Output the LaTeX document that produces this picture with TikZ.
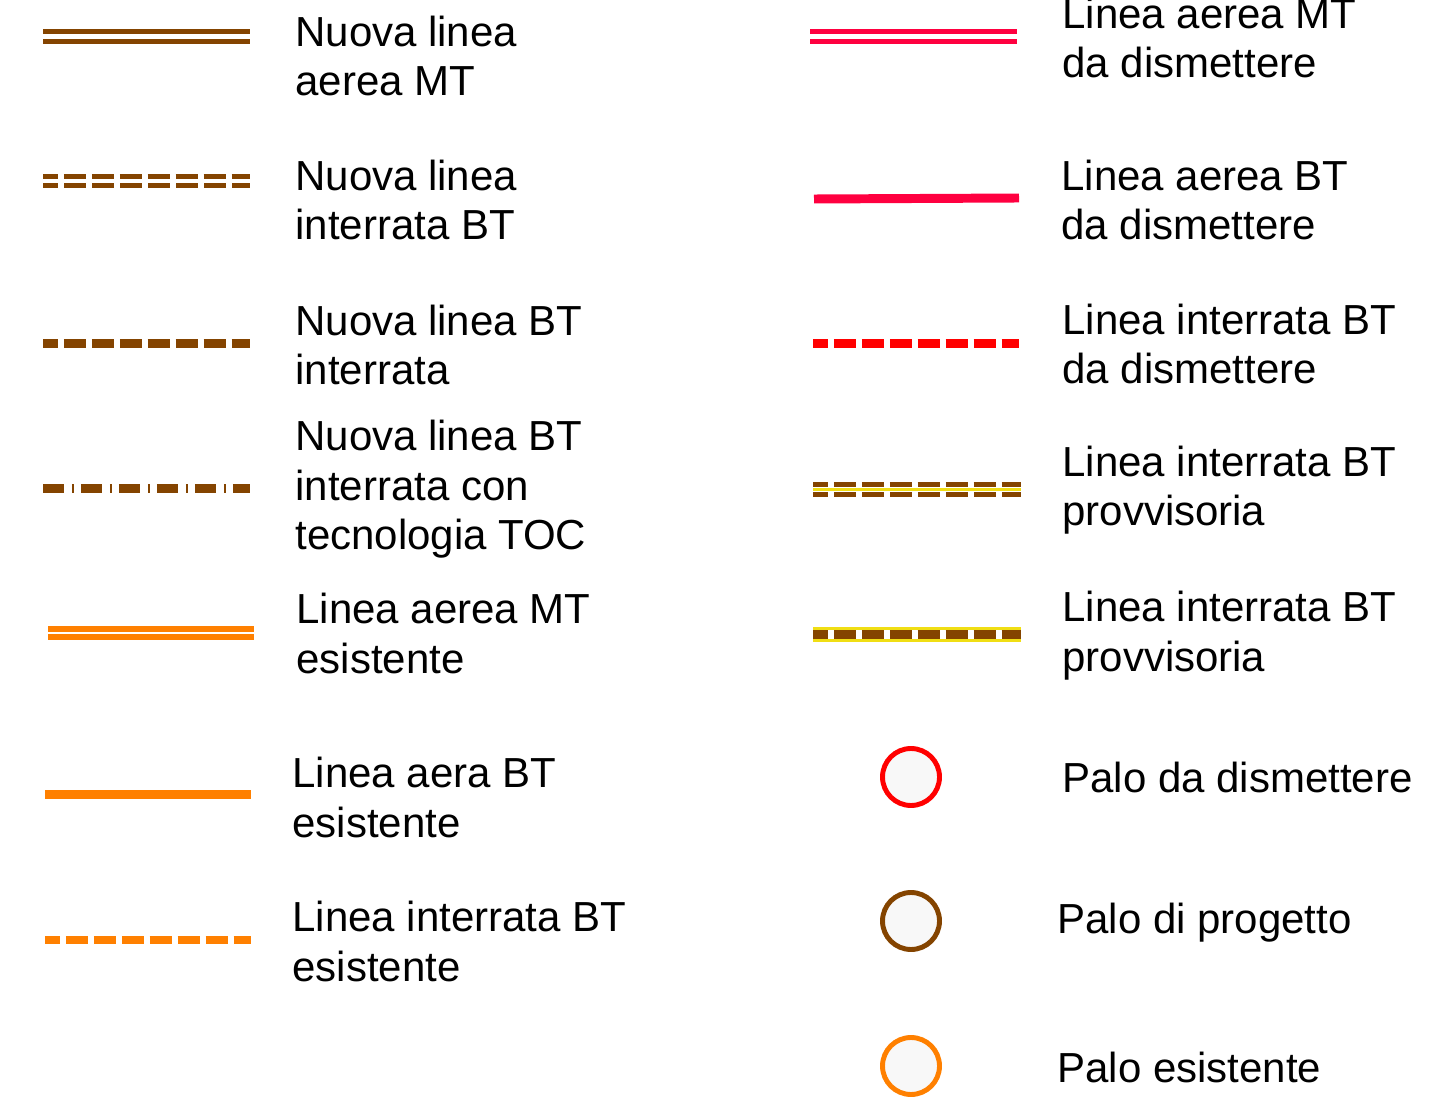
\documentclass[tikz,border=0pt]{standalone}
\usepackage{fontspec}
\setmainfont{Liberation Sans}

\definecolor{brownline}{RGB}{132,68,0}
\definecolor{orangeline}{RGB}{255,128,0}
\definecolor{pinkline}{RGB}{255,0,64}
\definecolor{redline}{RGB}{255,0,0}
\definecolor{yellowline}{RGB}{240,222,20}
\definecolor{palofill}{RGB}{248,248,248}

\tikzset{
  legtext/.style={anchor=base west, align=left, inner sep=0pt,
    font=\fontsize{23.9pt}{28.45pt}\selectfont},
  dblline/.style={line width=2.85pt, double=white, double distance=2.3pt},
  thickline/.style={line width=5.1pt},
  legdash/.style={dash pattern=on 12.5pt off 3.4pt, dash phase=4pt},
  palo/.style={circle, line width=2.8pt, fill=palofill, minimum size=1.14cm, inner sep=0pt},
}

\begin{document}
\begin{tikzpicture}[x=0.02cm, y=-0.02cm]
  \useasboundingbox (0,0) rectangle (1431,1101);

  % left column
  \draw[dblline, brownline] (43,36.5) -- (250,36.5);
  \node(nmt)[legtext] at (295,96) {Nuova linea\\aerea MT};

  \draw[dblline, brownline, legdash] (43,181) -- (250,181);
  \node(nbt1)[legtext] at (295,240) {Nuova linea\\interrata BT};

  \draw[thickline, brownline, legdash] (43,343.5) -- (250,343.5);
  \node(nbt2)[legtext] at (295,385) {Nuova linea BT\\interrata};

  \draw[thickline, brownline, dash pattern=on 12pt off 4.5pt on 1.2pt off 3.9pt, dash phase=0pt] (43,488.5) -- (250,488.5);
  \node(ntoc)[legtext] at (295,550) {Nuova linea BT\\interrata con\\tecnologia TOC};

  \draw[dblline, orangeline, line width=3.1pt, double distance=1.3pt] (48,633) -- (254,633);
  \node(emt)[legtext] at (296,673) {Linea aerea MT\\esistente};

  \draw[thickline, orangeline] (45,794.5) -- (251,794.5);
  \node(ebt)[legtext] at (292,837) {Linea aera BT\\esistente};

  \draw[thickline, orangeline, legdash] (45,940) -- (251,940);
  \node(eint)[legtext] at (292,981) {Linea interrata BT\\esistente};

  % right column
  \draw[dblline, pinkline] (810,36.5) -- (1017,36.5);
  \node(dmt)[legtext] at (1062,78) {Linea aerea MT\\da dismettere};

  \draw[thickline, pinkline] (814,199) -- (1019,198);
  \node(dbt)[legtext] at (1061,240) {Linea aerea BT\\da dismettere};

  \draw[thickline, redline, legdash] (813,343.5) -- (1019,343.5);
  \node(dint)[legtext] at (1062,384) {Linea interrata BT\\da dismettere};

  \draw[dblline, brownline, legdash, line width=3.1pt] (813,489.5) -- (1021,489.5);
  \draw[yellowline, line width=1.8pt] (813,489.5) -- (1021,489.5);
  \node(prov1)[legtext] at (1062,526) {Linea interrata BT\\provvisoria};

  \draw[yellowline, line width=8.5pt] (813,634.5) -- (1021,634.5);
  \draw[white, line width=5.4pt] (813,634.5) -- (1021,634.5);
  \draw[thickline, brownline, legdash] (813,634.5) -- (1021,634.5);
  \node(prov2)[legtext] at (1062,671) {Linea interrata BT\\provvisoria};

  % pali
  \node(pdism)[palo, draw=redline] at (911,777) {};
  \node(pdismt)[legtext] at (1062,792) {Palo da dismettere};
  \node(pprog)[palo, draw=brownline] at (911,921) {};
  \node(pprogt)[legtext] at (1057,933) {Palo di progetto};
  \node(pesist)[palo, draw=orangeline] at (911,1066) {};
  \node(pesistt)[legtext] at (1057,1082) {Palo esistente};
\end{tikzpicture}
\end{document}
